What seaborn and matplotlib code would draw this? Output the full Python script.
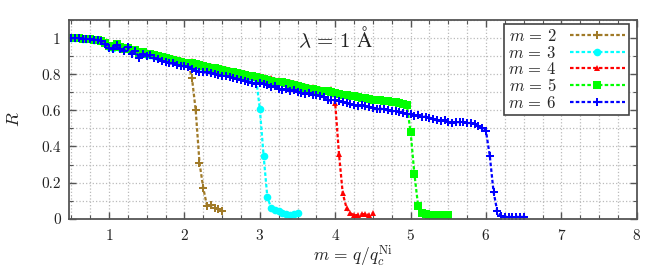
import numpy as np
import matplotlib
matplotlib.use("Agg")
import matplotlib.pyplot as plt
import seaborn as sns
from matplotlib.ticker import MultipleLocator

sns.set_style("ticks")
plt.rcParams['font.family'] = 'serif'
plt.rcParams['font.serif'] = ['cmr10', 'DejaVu Serif']
plt.rcParams['mathtext.fontset'] = 'cm'
plt.rcParams['axes.formatter.use_mathtext'] = True

# reflectivity curves, q sampled every 0.05 from 0.5 to m+0.5
m2_R = [1.0, 1.0, 1.0, 0.998, 0.996, 0.994, 0.992, 0.99, 0.985, 0.975,
        0.955, 0.95, 0.965, 0.95, 0.94, 0.945, 0.93, 0.935, 0.92, 0.925,
        0.91, 0.91, 0.905, 0.9, 0.895, 0.89, 0.885, 0.88, 0.875, 0.87,
        0.865, 0.86, 0.78, 0.60, 0.31, 0.17, 0.07, 0.075, 0.06, 0.055, 0.045]

m3_R = [1.0, 1.0, 1.0, 0.998, 0.996, 0.994, 0.992, 0.99, 0.985, 0.972,
        0.952, 0.948, 0.962, 0.948, 0.938, 0.942, 0.928, 0.932, 0.918, 0.922,
        0.908, 0.906, 0.902, 0.897, 0.892, 0.887, 0.882, 0.877, 0.872, 0.868,
        0.862, 0.857, 0.856, 0.851, 0.846, 0.842, 0.837, 0.832, 0.831, 0.826,
        0.821, 0.816, 0.811, 0.806, 0.801, 0.796, 0.791, 0.786, 0.785, 0.778,
        0.61, 0.35, 0.12, 0.06, 0.05, 0.04, 0.03, 0.025, 0.02, 0.025, 0.03]

m4_R = [1.0, 1.0, 1.0, 0.998, 0.996, 0.994, 0.992, 0.99, 0.986, 0.978,
        0.958, 0.955, 0.968, 0.955, 0.948, 0.95, 0.935, 0.94, 0.93, 0.93,
        0.915, 0.918, 0.91, 0.908, 0.9, 0.898, 0.89, 0.892, 0.882, 0.878,
        0.872, 0.868, 0.875, 0.862, 0.858, 0.855, 0.848, 0.845, 0.842, 0.838,
        0.835, 0.828, 0.825, 0.818, 0.815, 0.808, 0.805, 0.8, 0.798, 0.792,
        0.788, 0.785, 0.778, 0.782, 0.77, 0.768, 0.765, 0.758, 0.755, 0.75,
        0.745, 0.74, 0.735, 0.732, 0.728, 0.722, 0.72, 0.715, 0.712, 0.72,
        0.64, 0.36, 0.14, 0.06, 0.03, 0.02, 0.02, 0.025, 0.025, 0.02, 0.03]

m5_R = [1.0, 1.0, 1.0, 0.998, 0.996, 0.994, 0.992, 0.99, 0.985, 0.975,
        0.955, 0.95, 0.965, 0.95, 0.94, 0.945, 0.93, 0.935, 0.92, 0.925,
        0.91, 0.91, 0.905, 0.9, 0.895, 0.89, 0.885, 0.88, 0.875, 0.87,
        0.865, 0.86, 0.86, 0.855, 0.85, 0.845, 0.84, 0.835, 0.835, 0.83,
        0.825, 0.82, 0.815, 0.81, 0.805, 0.8, 0.795, 0.79, 0.79, 0.785,
        0.78, 0.775, 0.77, 0.765, 0.76, 0.76, 0.755, 0.75, 0.745, 0.74,
        0.735, 0.73, 0.725, 0.72, 0.72, 0.715, 0.71, 0.71, 0.705, 0.70,
        0.695, 0.69, 0.685, 0.685, 0.68, 0.68, 0.675, 0.67, 0.67, 0.665,
        0.66, 0.66, 0.655, 0.65, 0.65, 0.645, 0.645, 0.64, 0.635, 0.63,
        0.48, 0.25, 0.07, 0.03, 0.025, 0.02, 0.02, 0.02, 0.02, 0.02, 0.02]

m6_R = [1.0, 1.0, 1.0, 0.998, 0.996, 0.994, 0.992, 0.99, 0.985, 0.97,
        0.945, 0.94, 0.96, 0.94, 0.93, 0.95, 0.91, 0.93, 0.89, 0.915,
        0.9, 0.905, 0.89, 0.885, 0.875, 0.87, 0.86, 0.86, 0.85, 0.845,
        0.845, 0.84, 0.83, 0.82, 0.815, 0.81, 0.81, 0.805, 0.8, 0.795,
        0.79, 0.79, 0.785, 0.78, 0.775, 0.77, 0.765, 0.76, 0.75, 0.745,
        0.75, 0.745, 0.74, 0.73, 0.735, 0.72, 0.715, 0.72, 0.71, 0.715,
        0.70, 0.695, 0.69, 0.695, 0.685, 0.685, 0.68, 0.675, 0.655, 0.655,
        0.655, 0.65, 0.645, 0.64, 0.635, 0.63, 0.625, 0.63, 0.625, 0.62,
        0.615, 0.61, 0.61, 0.605, 0.60, 0.595, 0.595, 0.59, 0.585, 0.58,
        0.58, 0.57, 0.575, 0.565, 0.565, 0.56, 0.55, 0.545, 0.54, 0.545,
        0.535, 0.53, 0.535, 0.535, 0.535, 0.53, 0.53, 0.525, 0.515, 0.505,
        0.485, 0.35, 0.15, 0.04, 0.015, 0.01, 0.01, 0.01, 0.01, 0.01,
        0.01]

series = [(2, m2_R, '#a07a28', 'P', 6),
          (3, m3_R, '#00ffff', 'o', 5.5),
          (4, m4_R, '#ff0000', '^', 5),
          (5, m5_R, '#00ff00', 's', 5.5),
          (6, m6_R, '#0000ff', 'P', 6)]

fig, ax = plt.subplots(figsize=(6.64, 2.72), dpi=100)
fig.subplots_adjust(left=0.104, right=0.959, bottom=0.196, top=0.926)

for m, R, col, mk, ms in series:
    q = np.round(0.5 + 0.05 * np.arange(len(R)), 2)
    sns.lineplot(x=q, y=R, ax=ax, color=col, marker=mk, markersize=ms,
                 markeredgewidth=0, linestyle=(0, (1.6, 1.0)), linewidth=1.6,
                 sort=False, estimator=None, label=rf'$m\,=\,{m}$')

ax.set_xlim(0.47, 8)
ax.set_ylim(0, 1.1)
ax.xaxis.set_major_locator(MultipleLocator(1))
ax.xaxis.set_minor_locator(MultipleLocator(0.25))
ax.yaxis.set_minor_locator(MultipleLocator(0.1))
ax.set_yticks([0, 0.2, 0.4, 0.6, 0.8, 1.0])
ax.set_yticklabels(['0', '0.2', '0.4', '0.6', '0.8', '1'])

ax.grid(True, which='both', color='#bbbbbb', linestyle=':', linewidth=0.9)
ax.set_axisbelow(True)
ax.tick_params(which='both', direction='in', top=True, right=True,
               colors='#555555', labelcolor='#222222', labelsize=11)
ax.tick_params(which='major', length=5, width=1)
ax.tick_params(which='minor', length=3, width=0.8)
ax.tick_params(axis='x', pad=7)
ax.tick_params(axis='y', pad=6)
for sp in ax.spines.values():
    sp.set_color('#555555')
    sp.set_linewidth(1.3)

ax.set_xlabel(r'$m\,=\,q/q_c^{\mathrm{Ni}}$', fontsize=12.5, color='#222222',
              labelpad=0)
ax.set_ylabel(r'$R$', fontsize=13, color='#222222', labelpad=14)
ax.text(4.0, 1.0, r'$\lambda\,=\,1\ \mathrm{\AA}$', fontsize=15,
        ha='center', va='center', color='#222222')

leg = ax.legend(loc='upper right', markerfirst=False, fontsize=12,
                fancybox=False, framealpha=1, edgecolor='#444444',
                handlelength=3.3, labelspacing=0.02, borderpad=0.25,
                handletextpad=0.8, borderaxespad=0,
                bbox_to_anchor=(0.986, 0.98))
leg.get_frame().set_linewidth(1.2)

fig.savefig('out.png', dpi=100)
